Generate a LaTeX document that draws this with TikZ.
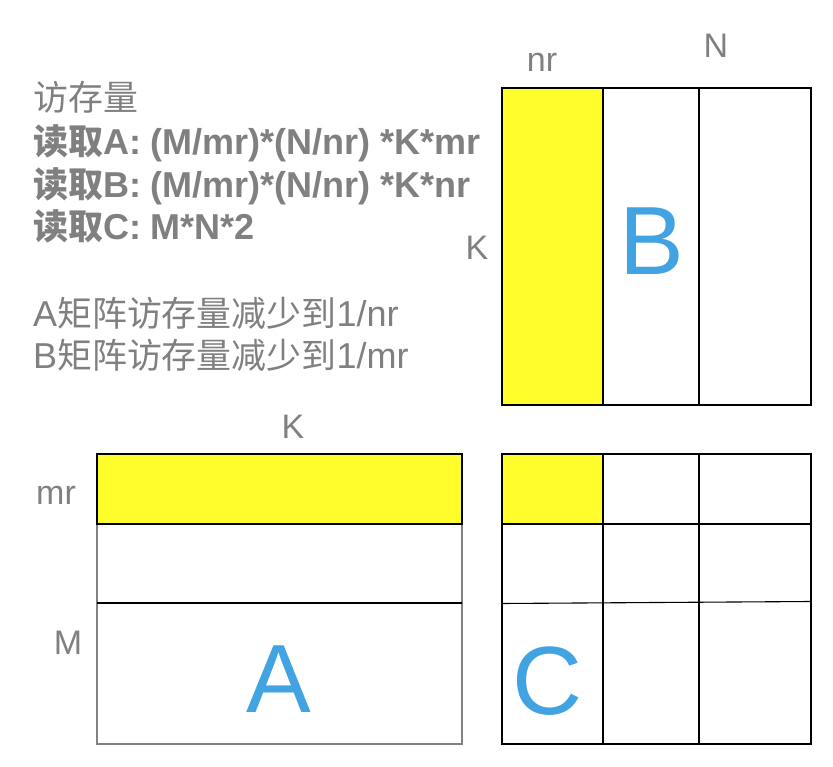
\documentclass[tikz,border=0pt]{standalone}
\usepackage{fontspec}
\setmainfont{Liberation Sans}
\newfontfamily\cjk[Scale=0.97]{Noto Sans CJK SC}
\definecolor{txtgray}{RGB}{128,128,128}
\definecolor{hiyellow}{RGB}{255,253,43}
\definecolor{letterblue}{RGB}{66,163,226}
\definecolor{edgegray}{RGB}{130,130,130}
\tikzset{
  info/.style={anchor=base west, inner sep=0pt, text=txtgray, font=\fontsize{36}{40}\selectfont},
  infob/.style={info, font=\fontsize{36}{40}\selectfont\bfseries},
  dimlabel/.style={anchor=base, inner sep=0pt, text=txtgray, font=\fontsize{34}{40}\selectfont},
  bigletter/.style={anchor=base, inner sep=0pt, text=letterblue, font=\fontsize{97}{100}\selectfont},
  gridline/.style={draw=black, line width=1.1pt},
  softline/.style={draw=edgegray, line width=1.1pt},
  hifill/.style={fill=hiyellow}
}
\begin{document}
\begin{tikzpicture}[x=1pt,y=-1pt]
\useasboundingbox[fill=white] (0,0) rectangle (833,767);

% text block
\node[info] (t1) at (33,111) {\cjk 访存量};
\node[infob] (t2) at (33,155) {{\cjk\bfseries 读取}A: (M/mr)*(N/nr) *K*mr};
\node[infob] (t3) at (33,198) {{\cjk\bfseries 读取}B: (M/mr)*(N/nr) *K*nr};
\node[infob] (t4) at (33,240) {{\cjk\bfseries 读取}C: M*N*2};
\node[info] (t5) at (33,327) {A{\cjk 矩阵访存量减少到}1/nr};
\node[info] (t6) at (33,369) {B{\cjk 矩阵访存量减少到}1/mr};

% matrix B
\fill[hifill] (502,88) rectangle (603,405);
\draw[gridline] (502,88) rectangle (811,405);
\draw[gridline] (603,88) -- (603,405);
\draw[gridline] (699,88) -- (699,405);
\node[dimlabel] (lnr) at (542,72) {nr};
\node[dimlabel] (lN) at (716,58) {N};
\node[dimlabel] (lKb) at (477,260) {K};
\node[bigletter] (lB) at (652,275) {B};

% matrix A
\fill[hifill] (97,454) rectangle (462,524);
\draw[softline] (97,524) -- (97,744) -- (462,744) -- (462,524);
\draw[gridline] (97,454) rectangle (462,524);
\draw[gridline] (97,603) -- (462,603);
\node[dimlabel] (lKa) at (293,438) {K};
\node[dimlabel] (lmr) at (56,504) {mr};
\node[dimlabel] (lM) at (68,654) {M};
\node[bigletter] (lA) at (279,712) {A};

% matrix C
\fill[hifill] (502,454) rectangle (603,524);
\draw[gridline] (502,454) rectangle (811,744);
\draw[gridline] (603,454) -- (603,744);
\draw[gridline] (699,454) -- (699,744);
\draw[gridline] (502,524) -- (811,524);
\draw[gridline] (502,603.5) -- (811,601.5);
\node[bigletter] (lC) at (548,714) {C};
\end{tikzpicture}
\end{document}
